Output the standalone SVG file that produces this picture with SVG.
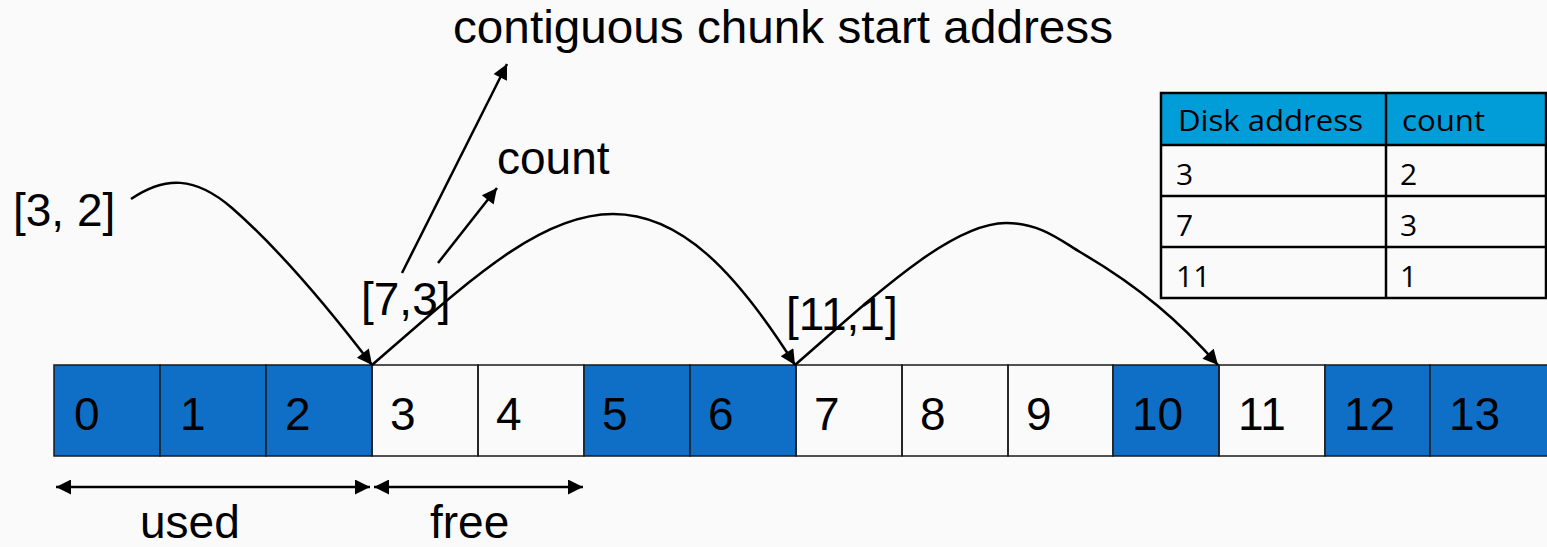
<svg xmlns="http://www.w3.org/2000/svg" width="1547" height="547" viewBox="0 0 1547 547">
<style>
.t{font-family:"Liberation Sans",Arial,sans-serif;font-size:46px;fill:#000}
.tb{font-family:"Open Sans","Liberation Sans",sans-serif;font-size:30px;fill:#000}
.used{fill:#0F6FC6;stroke:#1a1a1a;stroke-width:1.5}
.free{fill:none;stroke:#1a1a1a;stroke-width:1.5}
.ln{fill:none;stroke:#000;stroke-width:2.5}
.tl{stroke:#000;stroke-width:2.5;fill:none}
</style>
<defs>
<marker id="ah" viewBox="0 0 10 10" refX="10" refY="5" markerWidth="18" markerHeight="15" markerUnits="userSpaceOnUse" orient="auto">
<path d="M0,0 L10,5 L0,10 Z" fill="#000"/>
</marker>
<marker id="ahs" viewBox="0 0 10 10" refX="0" refY="5" markerWidth="18" markerHeight="15" markerUnits="userSpaceOnUse" orient="auto">
<path d="M10,0 L0,5 L10,10 Z" fill="#000"/>
</marker>
</defs>
<rect width="1547" height="547" fill="#fafafa"/>

<g id="blocks">
<g id="b0"><rect class="used" x="54" y="365" width="106" height="91"/><text class="t" x="74" y="430">0</text></g>
<g id="b1"><rect class="used" x="160" y="365" width="106" height="91"/><text class="t" x="180" y="430">1</text></g>
<g id="b2"><rect class="used" x="266" y="365" width="106" height="91"/><text class="t" x="285" y="430">2</text></g>
<g id="b3"><rect class="free" x="372" y="365" width="106" height="91"/><text class="t" x="390" y="430">3</text></g>
<g id="b4"><rect class="free" x="478" y="365" width="106" height="91"/><text class="t" x="496" y="430">4</text></g>
<g id="b5"><rect class="used" x="584" y="365" width="106" height="91"/><text class="t" x="602" y="430">5</text></g>
<g id="b6"><rect class="used" x="690" y="365" width="106" height="91"/><text class="t" x="708" y="430">6</text></g>
<g id="b7"><rect class="free" x="796" y="365" width="106" height="91"/><text class="t" x="814" y="430">7</text></g>
<g id="b8"><rect class="free" x="902" y="365" width="106" height="91"/><text class="t" x="920" y="430">8</text></g>
<g id="b9"><rect class="free" x="1008" y="365" width="105" height="91"/><text class="t" x="1026" y="430">9</text></g>
<g id="b10"><rect class="used" x="1113" y="365" width="106" height="91"/><text class="t" x="1132" y="430">10</text></g>
<g id="b11"><rect class="free" x="1219" y="365" width="106" height="91"/><text class="t" x="1238" y="430">11</text></g>
<g id="b12"><rect class="used" x="1325" y="365" width="105" height="91"/><text class="t" x="1344" y="430">12</text></g>
<g id="b13"><rect class="used" x="1430" y="365" width="125" height="91"/><text class="t" x="1449" y="430">13</text></g>
</g>

<g id="labels">
<text class="t" x="453" y="43" textLength="660" lengthAdjust="spacingAndGlyphs">contiguous chunk start address</text>
<text class="t" x="497" y="174">count</text>
<text class="t" x="13" y="226">[3, 2]</text>
<text class="t" x="361" y="315">[7,3]</text>
<text class="t" x="786" y="330">[11,1]</text>
<text class="t" x="140" y="538">used</text>
<text class="t" x="430" y="538">free</text>
</g>

<g id="connectors">
<path class="ln" d="M131,199 C165,176 195,176 232,208 C280,250 330,310 372,365" marker-end="url(#ah)"/>
<path class="ln" d="M372,365 C470,280 540,214 613,214 C680,214 735,270 795,365" marker-end="url(#ah)"/>
<path class="ln" d="M795,365 C870,300 950,223 1006,223 C1040,223 1060,240 1080,252 C1140,287 1180,322 1218,365" marker-end="url(#ah)"/>
<line class="ln" x1="402" y1="273" x2="507" y2="64" marker-end="url(#ah)"/>
<line class="ln" x1="438" y1="263" x2="497" y2="188" marker-end="url(#ah)"/>
<line class="ln" x1="56" y1="487" x2="370" y2="487" marker-start="url(#ahs)" marker-end="url(#ah)"/>
<line class="ln" x1="374" y1="487" x2="583" y2="487" marker-start="url(#ahs)" marker-end="url(#ah)"/>
</g>

<g id="table">
<rect x="1161" y="93" width="385" height="52" fill="#009DD9"/>
<rect class="tl" x="1161" y="93" width="385" height="205"/>
<line class="tl" x1="1386" y1="93" x2="1386" y2="298"/>
<line class="tl" x1="1161" y1="145" x2="1546" y2="145"/>
<line class="tl" x1="1161" y1="196" x2="1546" y2="196"/>
<line class="tl" x1="1161" y1="247" x2="1546" y2="247"/>
<text class="tb" x="1178" y="131" textLength="185" lengthAdjust="spacingAndGlyphs">Disk address</text>
<text class="tb" x="1402" y="131" textLength="83" lengthAdjust="spacingAndGlyphs">count</text>
<text class="tb" x="1176" y="185">3</text>
<text class="tb" x="1400" y="185">2</text>
<text class="tb" x="1176" y="236">7</text>
<text class="tb" x="1400" y="236">3</text>
<text class="tb" x="1176" y="287">11</text>
<text class="tb" x="1400" y="287">1</text>
</g>
</svg>
